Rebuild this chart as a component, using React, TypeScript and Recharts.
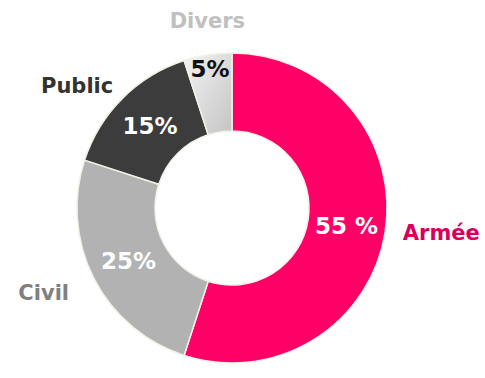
import { Cell, Pie, PieChart } from 'recharts';

const categories = ['Armée', 'Civil', 'Public', 'Divers'];
const shares = [55, 25, 15, 5];
const valueLabels = ['55 %', '25%', '15%', '5%'];

const sliceColors = ['#ff0066', '#b2b2b2', '#3c3c3c', 'url(#diversFill)'];
const valueColors = ['#ffffff', '#ffffff', '#ffffff', '#111111'];
const nameColors = ['#d8005c', '#808080', '#333333', '#c0c0c0'];

// small hand nudges for the outside names so they sit like the original
const nameNudge = [
  [-2, -2],
  [-7, 6],
  [5, 2],
  [4, -6],
];

const data = categories.map((name, i) => ({ name, value: shares[i] }));

const RAD = Math.PI / 180;
const FONT = '"DejaVu Sans", Verdana, sans-serif';

function renderLabel(props: any) {
  const { cx, cy, midAngle, innerRadius, outerRadius, index } = props;
  const cos = Math.cos(-midAngle * RAD);
  const sin = Math.sin(-midAngle * RAD);

  // value inside the ring; the thin slice gets pushed outward
  const small = shares[index] < 10;
  const rIn = small ? outerRadius - 14 : (innerRadius + outerRadius) / 2;
  const vx = cx + rIn * cos;
  const vy = cy + rIn * sin;

  // category name outside the ring
  const rOut = outerRadius + (Math.abs(cos) < 0.3 ? 28 : 20);
  const nx = cx + rOut * cos + nameNudge[index][0];
  const ny = cy + rOut * sin + nameNudge[index][1];
  const anchor = Math.abs(cos) < 0.3 ? 'middle' : cos > 0 ? 'start' : 'end';

  return (
    <g>
      <text
        x={vx}
        y={vy}
        fill={valueColors[index]}
        textAnchor="middle"
        dominantBaseline="central"
        fontFamily={FONT}
        fontWeight="bold"
        fontSize={23}
      >
        {valueLabels[index]}
      </text>
      <text
        x={nx}
        y={ny}
        fill={nameColors[index]}
        textAnchor={anchor}
        dominantBaseline="central"
        fontFamily={FONT}
        fontWeight="bold"
        fontSize={21}
      >
        {categories[index]}
      </text>
    </g>
  );
}

export default function App() {
  return (
    <div style={{ position: 'absolute', left: 0, top: 0, width: 485, height: 378, background: '#fff' }}>
      <PieChart width={485} height={378}>
        <defs>
          <linearGradient id="diversFill" x1="0" y1="0" x2="1" y2="1">
            <stop offset="0%" stopColor="#f4f4f4" />
            <stop offset="100%" stopColor="#c4c4c4" />
          </linearGradient>
        </defs>
        <Pie
          data={data}
          dataKey="value"
          nameKey="name"
          cx={227}
          cy={203}
          innerRadius={77}
          outerRadius={155}
          startAngle={90}
          endAngle={-270}
          stroke="#eef3e6"
          strokeWidth={1.5}
          label={renderLabel}
          labelLine={false}
          isAnimationActive={false}
        >
          {data.map((d, i) => (
            <Cell key={d.name} fill={sliceColors[i]} />
          ))}
        </Pie>
      </PieChart>
    </div>
  );
}
